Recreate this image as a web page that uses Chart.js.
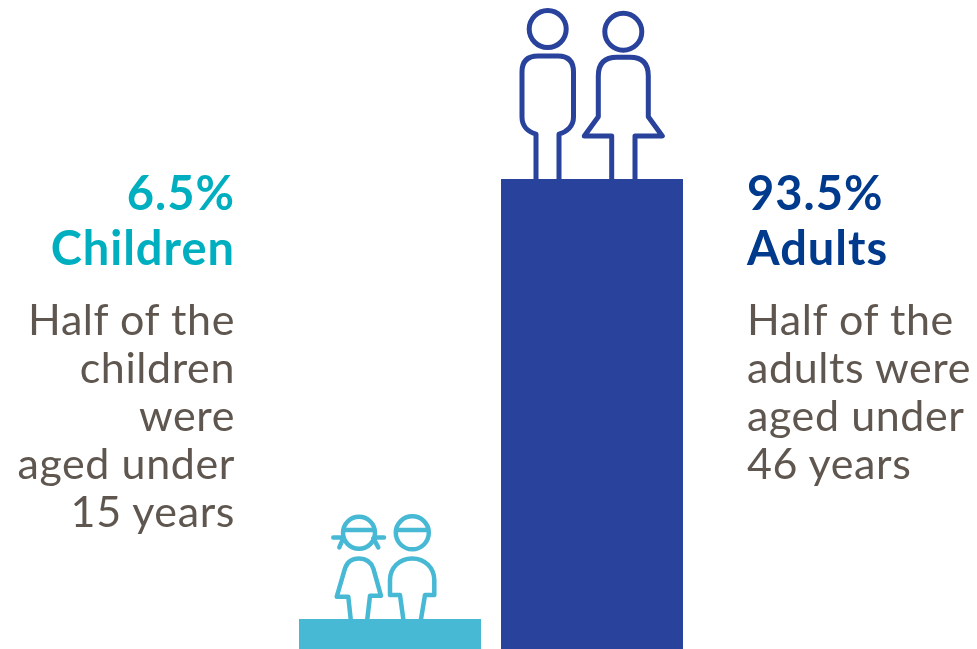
<!DOCTYPE html>
<html>
<head>
<meta charset="utf-8">
<title>Children and adults</title>
<script src="https://cdn.jsdelivr.net/npm/chart.js@4"></script>
<style>
  html, body { margin: 0; padding: 0; background: #fff; overflow: hidden; }
  #wrap { position: relative; width: 977px; height: 649px; overflow: hidden; }
  #shareChart { position: absolute; left: 0; top: 0; }
  .note { position: absolute; font-family: Lato, sans-serif; color: #5f574f; font-size: 43px; letter-spacing: 0.6px; line-height: 48px; white-space: nowrap; }
  .head { position: absolute; font-family: Lato, sans-serif; font-weight: 700; font-size: 47px; letter-spacing: 1px; line-height: 55px; white-space: nowrap; }
</style>
</head>
<body>
<div id="wrap">
  <canvas id="shareChart" width="977" height="652"></canvas>
  <div class="head" id="headChildren" style="right:742px;top:165px;text-align:right;color:#00afbf"></div>
  <div class="note" id="noteChildren" style="right:742px;top:295px;text-align:right"></div>
  <div class="head" id="headAdults" style="left:747px;top:165px;color:#003a8c"></div>
  <div class="note" id="noteAdults" style="left:747px;top:295px"></div>
</div>
<script>
const categories = ['Children', 'Adults'];
const shares = [6.5, 93.5];
const barColours = ['#47b9d4', '#29429c'];
const childNote = ['Half of the', 'children', 'were', 'aged under', '15 years'];
const adultNote = ['Half of the', 'adults were', 'aged under', '46 years'];

function fillText(id, lines) {
  document.getElementById(id).innerHTML = lines.join('<br>');
}
fillText('headChildren', [shares[0] + '%', categories[0]]);
fillText('noteChildren', childNote);
fillText('headAdults', [shares[1] + '%', categories[1]]);
fillText('noteAdults', adultNote);

// figures standing on each bar, paths relative to the bar's top centre
const figures = [
  {
    width: 4.5,
    paths: [
      'M-39.3 0L-41.7 -22.3H-53.3L-45 -50.7C-43 -57 -38 -60.7 -31 -60.7C-24 -60.7 -19 -57 -16.7 -50.7L-9 -23.3H-20L-22.7 0',
      'M-56.7 -81.7H-47M-15 -81.7H-6M-46.7 -81L-50.7 -71.7M-16.7 -81L-11.7 -71.7M-46 -89H-16',
      'M13.3 0L10 -24H0V-39C0 -51 9 -60.7 22.3 -60.7C35 -60.7 44.3 -51 44.3 -39V-24H35L31 0',
      'M6 -89H38'
    ],
    heads: [[-31, -86.3, 16], [22.3, -86.3, 16.5]]
  },
  {
    width: 5,
    paths: [
      'M-56 0V-45C-64 -47 -70 -53 -70 -62V-107Q-70 -123 -54 -123H-34Q-18.5 -123 -18.5 -107V-62C-18.5 -53 -25 -47 -33 -45V0',
      'M19.7 0V-43H-7.7L6.3 -62.3V-103Q6.3 -121.7 25 -121.7H38Q56.3 -121.7 56.3 -103V-62.3L70.3 -43H43V0'
    ],
    heads: [[-44.3, -150, 18.5], [31.3, -147.3, 18.5]]
  }
];

const figurePlugin = {
  id: 'figures',
  afterDatasetsDraw(chart) {
    const ctx = chart.ctx;
    chart.getDatasetMeta(0).data.forEach((bar, i) => {
      const fig = figures[i];
      ctx.save();
      ctx.translate(bar.x, bar.y);
      ctx.strokeStyle = barColours[i];
      ctx.lineWidth = fig.width;
      ctx.lineJoin = 'round';
      ctx.lineCap = 'round';
      fig.paths.forEach(p => ctx.stroke(new Path2D(p)));
      fig.heads.forEach(h => {
        ctx.beginPath();
        ctx.arc(h[0], h[1], h[2], 0, Math.PI * 2);
        ctx.stroke();
      });
      ctx.restore();
    });
  }
};

new Chart(document.getElementById('shareChart'), {
  type: 'bar',
  data: {
    labels: categories,
    datasets: [{
      data: shares,
      backgroundColor: barColours,
      barPercentage: 182 / 202,
      categoryPercentage: 1
    }]
  },
  options: {
    responsive: false,
    animation: false,
    layout: { padding: { left: 289, right: 284, top: 0, bottom: 0 } },
    plugins: { legend: { display: false }, tooltip: { enabled: false } },
    scales: {
      x: { display: false },
      y: { display: false, min: 0, max: 128.9 }
    }
  },
  plugins: [figurePlugin]
});
</script>
</body>
</html>
